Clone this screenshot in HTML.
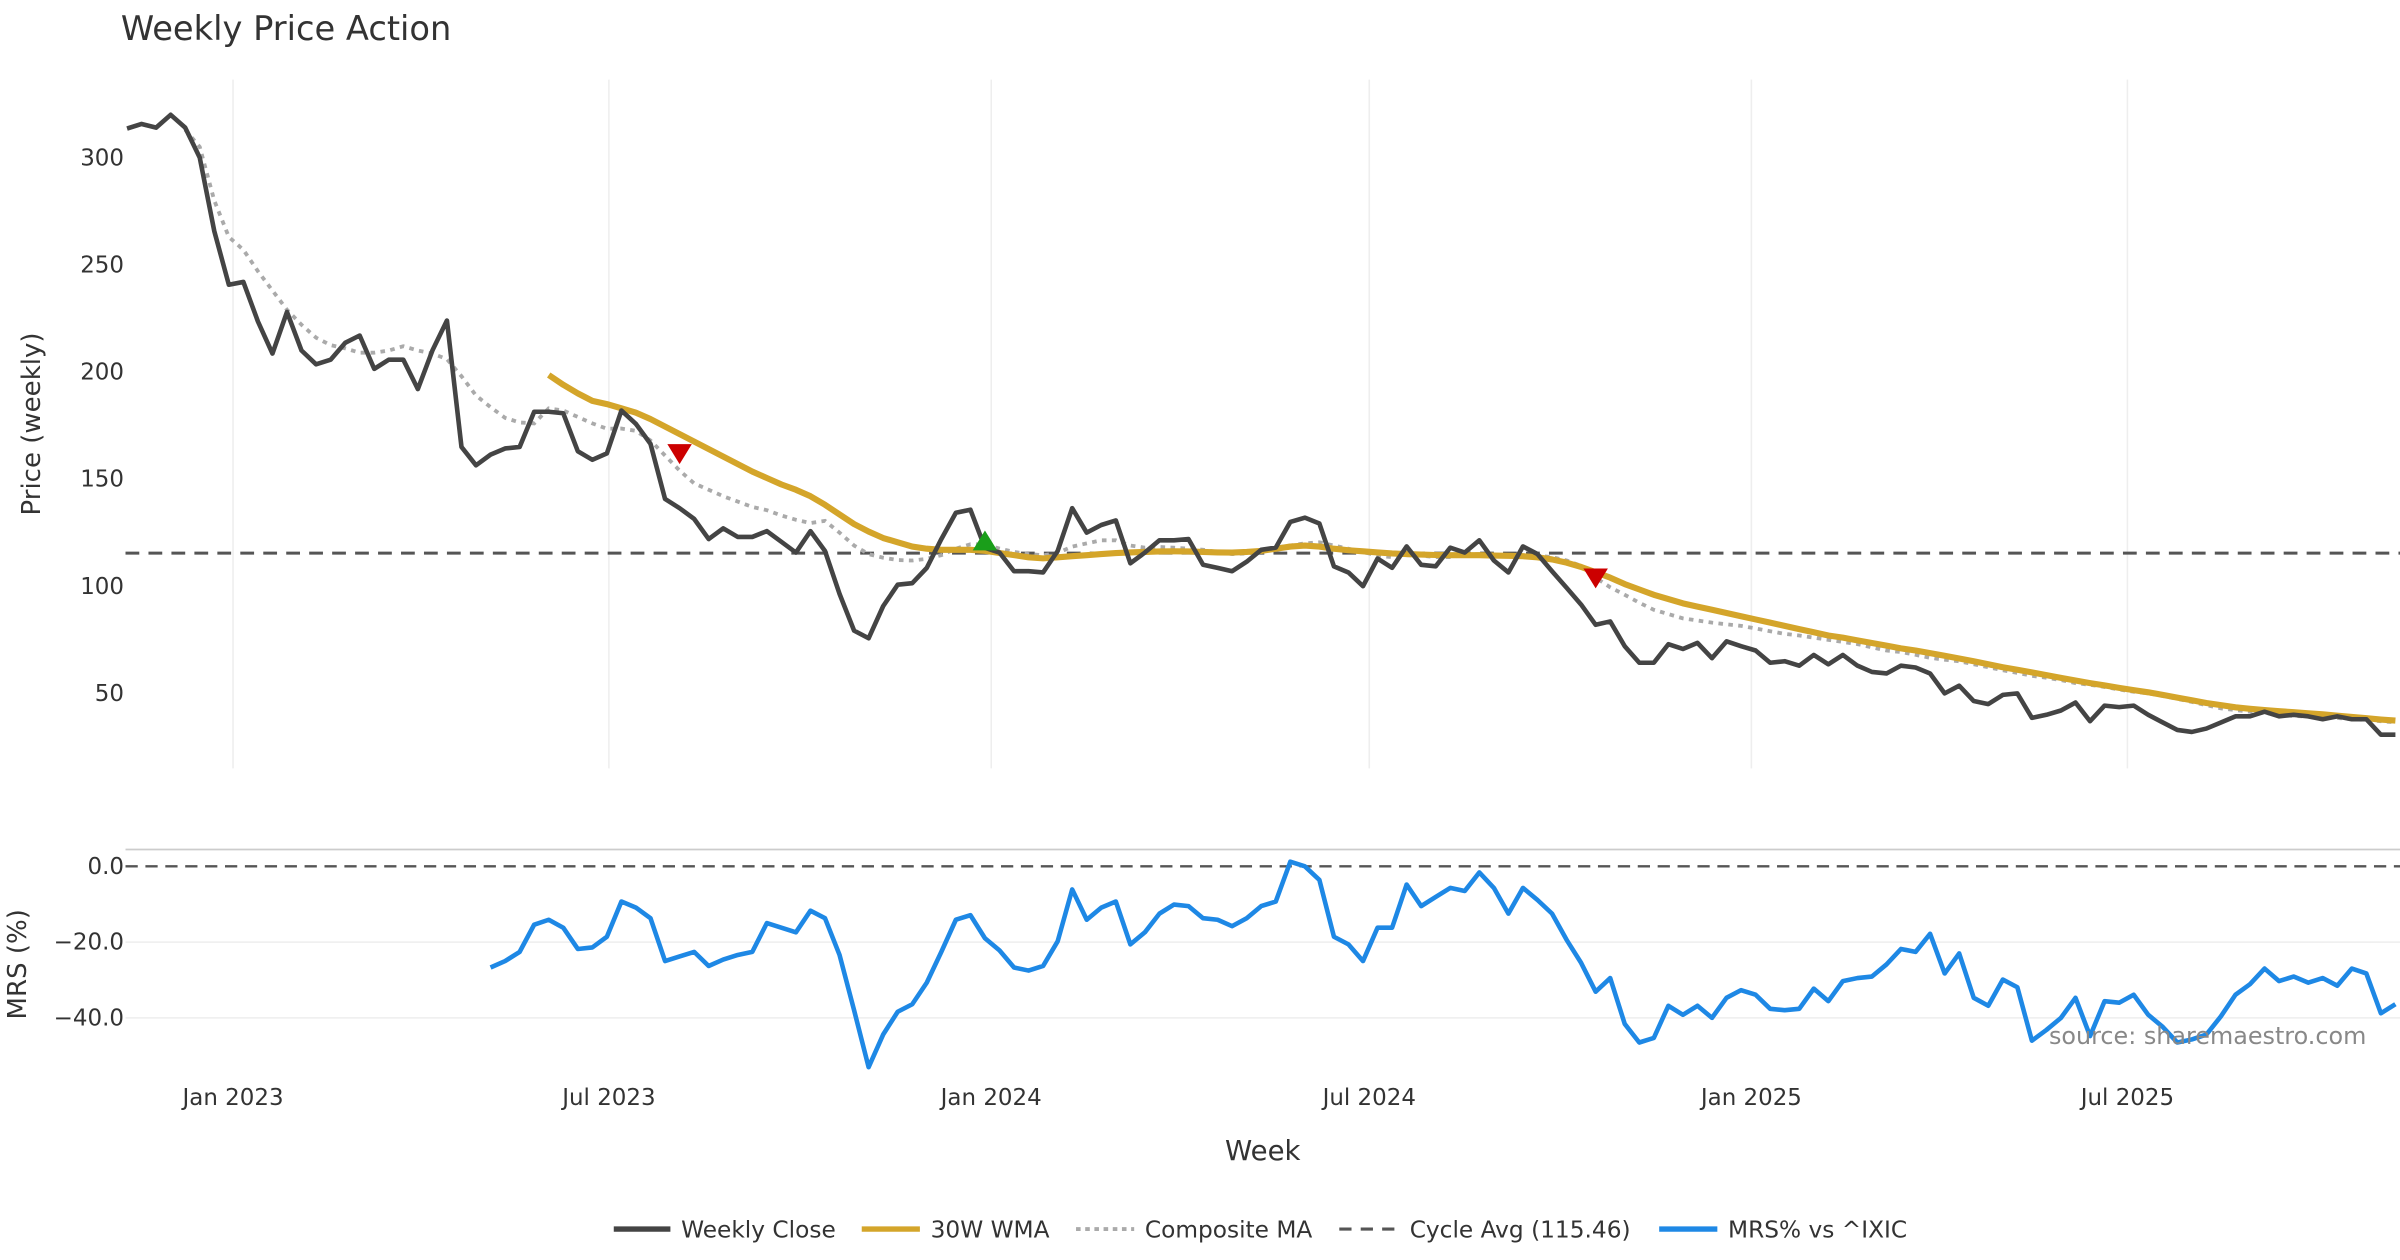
<!DOCTYPE html>
<html><head><meta charset="utf-8">
<style>
html,body{margin:0;padding:0;background:#fff;}
svg{display:block;font-family:"DejaVu Sans","Liberation Sans",sans-serif;}
</style></head>
<body>
<svg id="chart" width="2400" height="1260" viewBox="0 0 1568 823.2" xmlns="http://www.w3.org/2000/svg">
<rect width="1568" height="823.2" fill="#fff"/>
<text x="79" y="26" font-size="22" fill="#333">Weekly Price Action</text>
<g id="grid"></g>
<g id="series"></g>
<g id="axes"></g>
<text transform="translate(26,277) rotate(-90)" text-anchor="middle" font-size="17" fill="#333">Price (weekly)</text>
<text transform="translate(17,630) rotate(-90)" text-anchor="middle" font-size="17" fill="#333">MRS (%)</text>
<text x="825" y="758" text-anchor="middle" font-size="18" fill="#333">Week</text>
<text x="1546" y="682" text-anchor="end" font-size="15.6" fill="#888">source: sharemaestro.com</text>
<g id="legend">
  <line x1="401" y1="803" x2="438" y2="803" stroke="#444" stroke-width="3.5"/>
  <text x="445" y="808.5" font-size="15.2" fill="#333">Weekly Close</text>
  <line x1="563" y1="803" x2="601" y2="803" stroke="#D4A52A" stroke-width="3.5"/>
  <text x="608" y="808.5" font-size="15.2" fill="#333">30W WMA</text>
  <line x1="703" y1="803" x2="741" y2="803" stroke="#aaa" stroke-width="2.5" stroke-dasharray="3,3"/>
  <text x="748" y="808.5" font-size="15.2" fill="#333">Composite MA</text>
  <line x1="875" y1="803" x2="913" y2="803" stroke="#555" stroke-width="2" stroke-dasharray="8,6"/>
  <text x="921" y="808.5" font-size="15.2" fill="#333">Cycle Avg (115.46)</text>
  <line x1="1084" y1="803" x2="1122" y2="803" stroke="#1E88E5" stroke-width="3.5"/>
  <text x="1129" y="808.5" font-size="15.2" fill="#333">MRS% vs ^IXIC</text>
</g>
</svg>
<script>
const closeVals=[313.6,315.7,314,320,314,300,265.7,240.7,242,223.6,208.6,228,210,203.6,205.7,213.6,217,201.4,205.7,205.7,192,210,224,165,156.4,161.4,164.3,165,181.4,181.4,180.7,163,159,162,182,175.7,166.4,140.7,136.4,131.4,122,127,123,123,125.7,120.7,115.7,125.7,116.4,96.4,79.3,75.7,90.7,100.7,101.4,108.6,122,134.3,135.7,117.9,115.7,107,107,106.4,116.4,136.4,125,128.6,130.7,110.7,115.7,121.4,121.4,122,110,108.6,107,111.4,117,118,130,132,129.3,109.3,106.4,100,112.9,108.6,118.6,110,109.3,118,115.7,121.4,112,106.4,118.6,115,107,99.3,91.4,82,83.6,72,64.3,64.3,72.9,70.7,73.6,66.4,74.3,72,70,64.3,65,62.9,67.9,63.6,67.9,62.9,60,59.3,62.9,62.1,59.3,50,53.6,46.4,45,49.3,50,38.6,40,42,45.7,37,44.3,43.6,44.3,40,36.4,32.9,32,33.6,36.4,39.3,39.3,41.4,39.3,40,39.3,37.9,39.3,37.9,37.9,30.7,30.7];
const wmaStart=29;
const wmaVals=[198.6,194,190,186.5,185,183,181,178,174.5,171,167.5,164,160.5,157,153.5,150.5,147.5,145,142,138,133.5,129,125.5,122.5,120.5,118.5,117.5,117,117,117,116.5,115.5,114.5,113.5,113,113.5,114,114.5,115,115.5,115.8,116,116.2,116.3,116.2,116,115.8,115.7,116,116.5,117.5,118.5,119,118.5,117.5,116.8,116.3,115.8,115.3,115,114.8,114.6,114.5,114.5,114.5,114.3,114.2,114,113.5,112.5,111,109,106.5,104,101,98.5,96,94,92,90.5,89,87.5,86,84.5,83,81.5,80,78.5,77,76,74.7,73.5,72.3,71,70,68.8,67.6,66.3,65,63.6,62.2,61,59.8,58.5,57.2,56,54.8,53.7,52.6,51.5,50.5,49.3,48,46.8,45.5,44.5,43.5,42.8,42.2,41.7,41.2,40.7,40.2,39.6,39,38.4,37.8,37.3];
const compStart=4;
const compVals=[313,305,280,263,257,247,238,229,222,216,212.5,211,209,209,210,212,210,208.6,206,198,189,183.6,178.6,176.4,176,183,182,179,176,173.5,173.6,172.5,168,161,154,148,145,142,139.5,137,135.5,133,131,129.5,130.5,125,119,115,113.3,112.2,112,112.8,114.5,117.5,119.6,119.5,117.6,116,115,114.4,115.5,118.5,120,121.4,121.4,119,118,118.3,118,117.5,117,116,115,115.3,116,118,119,120,120.5,119,117.5,116,114.3,113.6,114.5,114.3,113.6,113.6,114.8,115,114.5,114.3,114.3,114.3,113.6,112,109.5,104,99.5,96,92.3,89,87,85,84,83,82.2,81.5,80.3,79,77.8,77,76,75,74,73,71.5,70,69.3,68,66.6,65.7,65,63.6,62.2,60.8,59.6,58.2,57.3,56.2,54.8,54,53,51.8,50.8,50,48.8,47.4,46,44.5,43,42.2,41.4,40.8,40.2,39.4,39.2,38.9,38.5,38,37.6,37,36.5];
const mrsStart=25;
const mrsVals=[-26.7,-25,-22.6,-15.4,-14.1,-16.2,-21.8,-21.4,-18.6,-9.3,-10.9,-13.7,-25,-23.8,-22.6,-26.3,-24.6,-23.4,-22.6,-15,-16.2,-17.4,-11.7,-13.7,-23.4,-38,-53,-44.4,-38.4,-36.4,-30.7,-22.6,-14.1,-12.9,-19,-22.2,-26.7,-27.5,-26.3,-19.8,-6.1,-14.1,-10.9,-9.3,-20.6,-17.4,-12.5,-10.1,-10.5,-13.7,-14.1,-15.8,-13.7,-10.5,-9.3,1.2,0,-3.6,-18.6,-20.6,-25,-16.2,-16.2,-4.8,-10.5,-8.1,-5.7,-6.5,-1.6,-5.7,-12.5,-5.7,-8.9,-12.5,-19.4,-25.5,-33.1,-29.5,-41.6,-46.5,-45.3,-36.8,-39.2,-36.8,-40,-34.7,-32.7,-33.9,-37.6,-38,-37.6,-32.3,-35.6,-30.3,-29.5,-29.1,-25.9,-21.8,-22.6,-17.8,-28.3,-23,-34.7,-36.8,-29.9,-31.9,-46,-43.2,-40,-34.7,-44.8,-35.6,-36,-33.9,-39.2,-42.4,-46.5,-45.7,-44.4,-39.6,-33.9,-31.1,-27,-30.3,-29.1,-30.7,-29.5,-31.5,-27,-28.3,-38.8,-36.4];
const cycleAvg=115.46;
const signalWeeks=[38,59,101];
const signalVals=[162,121,104];
const signalTypes=['sell','buy','sell'];
const priceTicks=[50,100,150,200,250,300];
const mrsTicks=[0,-20,-40];
const mrsTickLabels=['0.0','\u221220.0','\u221240.0'];
const dateTickWeeks=[7.29,33.14,59.43,85.43,111.71,137.57];
const dateTickLabels=['Jan 2023','Jul 2023','Jan 2024','Jul 2024','Jan 2025','Jul 2025'];

const NS='http://www.w3.org/2000/svg';
const X=w=>83+9.5*w;
const YP=v=>453-(v-50)*1.4;
const YM=v=>566-v*2.475;
function mk(tag,attrs,parent){const e=document.createElementNS(NS,tag);for(const k in attrs)e.setAttribute(k,attrs[k]);document.getElementById(parent).appendChild(e);return e;}
function pathFrom(vals,start,yf){return vals.map((v,i)=>(i?'L':'M')+X(start+i).toFixed(1)+','+yf(v).toFixed(1)).join('');}

dateTickWeeks.forEach((w,i)=>{
  const g=mk('line',{x1:X(w),x2:X(w),y1:52,y2:502,stroke:'#eee','stroke-width':1},'grid');
  
  
  const t=mk('text',{x:X(w),y:722,'text-anchor':'middle','font-size':15,fill:'#333'},'axes');
  t.textContent=dateTickLabels[i];
  
  
});
priceTicks.forEach(v=>{
  const t=mk('text',{x:81,y:YP(v)+5,'text-anchor':'end','font-size':15,fill:'#333'},'axes');
  t.textContent=v;
  
  
});
mrsTicks.forEach((v,i)=>{
  if(v!==0){const g=mk('line',{x1:82,x2:1568,y1:YM(v),y2:YM(v),stroke:'#eee','stroke-width':1},'grid');
  
  }
  const t=mk('text',{x:81,y:YM(v)+5,'text-anchor':'end','font-size':15,fill:'#333'},'axes');
  t.textContent=mrsTickLabels[i];
  
  
});
const sep=mk('line',{x1:82,x2:1568,y1:555,y2:555,stroke:'#ccc','stroke-width':1.2},'grid');



const cyc=mk('line',{x1:82,x2:1568,y1:YP(cycleAvg),y2:YP(cycleAvg),stroke:'#555','stroke-width':2,'stroke-dasharray':'9,6'},'series');


const zero=mk('line',{x1:82,x2:1568,y1:YM(0),y2:YM(0),stroke:'#555','stroke-width':1.5,'stroke-dasharray':'8,5'},'series');


const comp=mk('path',{d:pathFrom(compVals,compStart,YP),fill:'none',stroke:'#aaa','stroke-width':2.5,'stroke-dasharray':'3,3.5'},'series');


const wma=mk('path',{d:pathFrom(wmaVals,wmaStart,YP),fill:'none',stroke:'#D4A52A','stroke-width':4,'stroke-linejoin':'round'},'series');


const cl=mk('path',{d:pathFrom(closeVals,0,YP),fill:'none',stroke:'#444','stroke-width':3,'stroke-linejoin':'round'},'series');


signalWeeks.forEach((w,i)=>{
  const x=X(w),y=YP(signalVals[i]);
  const pts=signalTypes[i]==='sell'?`${x-8},${y-6} ${x+8},${y-6} ${x},${y+7}`:`${x-8},${y+6} ${x+8},${y+6} ${x},${y-7}`;
  const m=mk('polygon',{points:pts,fill:signalTypes[i]==='sell'?'#CC0000':'#1A9E1A'},'series');
  
  
});
const mrs=mk('path',{d:pathFrom(mrsVals,mrsStart,YM),fill:'none',stroke:'#1E88E5','stroke-width':3,'stroke-linejoin':'round'},'series');


</script>
</body></html>
